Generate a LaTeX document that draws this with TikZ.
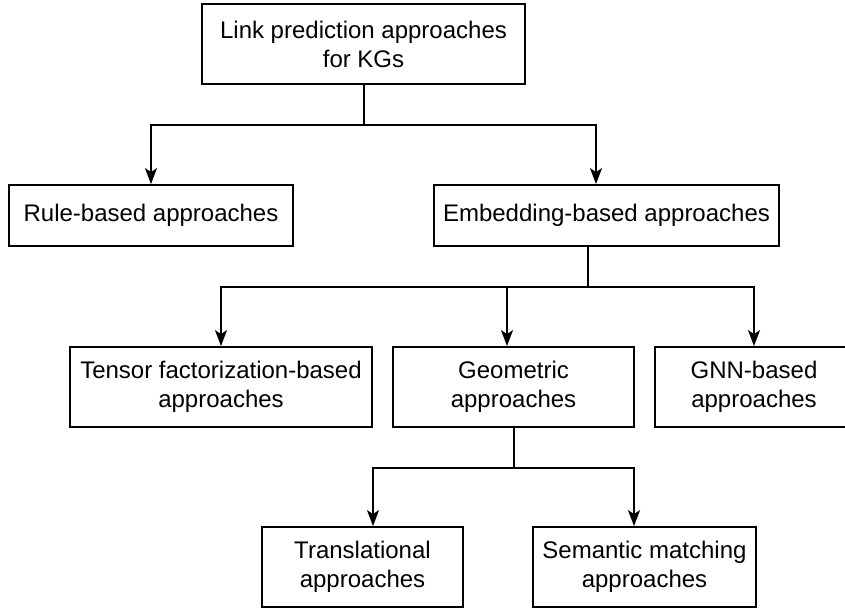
\documentclass[tikz,border=0pt]{standalone}
\usepackage{fontspec}
\setmainfont{Liberation Sans}
\usetikzlibrary{arrows.meta}
\begin{document}
\begin{tikzpicture}[x=1pt,y=-1pt,
  box/.style={draw=black, line width=1.8pt, rectangle, inner sep=0pt, align=center,
    font=\fontsize{24}{29}\selectfont, fill=white},
  conn/.style={draw=black, line width=1.8pt},
  arr/.style={conn, -{Stealth[length=16pt,width=12pt,inset=4pt]}}]
\useasboundingbox (0,0) rectangle (845,608);
\fill[white] (0,0) rectangle (845,608);
\node[box, minimum width=323pt, minimum height=80pt] (top) at (363.5,44) {Link prediction approaches\\for KGs};
\node[box, minimum width=284pt, minimum height=61pt] (rule) at (151,215.5) {Rule-based approaches};
\node[box, minimum width=345pt, minimum height=61pt] (emb) at (606.5,215.5) {Embedding-based approaches};
\node[box, minimum width=302pt, minimum height=80pt] (tensor) at (221,387) {Tensor factorization-based\\approaches};
\node[box, minimum width=241pt, minimum height=80pt] (geom) at (513.5,387) {Geometric\\approaches};
\node[box, minimum width=198pt, minimum height=80pt] (gnn) at (754,387) {GNN-based\\approaches};
\node[box, minimum width=201pt, minimum height=80pt] (trans) at (362.5,567) {Translational\\approaches};
\node[box, minimum width=223pt, minimum height=80pt] (sem) at (644.5,567) {Semantic matching\\approaches};
% level 1
\draw[conn] ([xshift=0.5pt]top.south) -- ++(0,40) coordinate (j1);
\draw[arr] (j1) -| (rule.north);
\draw[arr] (j1) -| ([xshift=-10.5pt]emb.north);
% level 2
\draw[conn] ([xshift=-18.5pt]emb.south) -- ++(0,40) coordinate (j2);
\draw[arr] (j2) -| (tensor.north);
\draw[arr] (j2) -| (gnn.north);
\draw[arr] ([xshift=-6.5pt]geom.north |- 0,288) coordinate (m2) -- ([xshift=-6.5pt]geom.north);
% level 3
\draw[conn] ([xshift=0.5pt]geom.south) -- ++(0,40) coordinate (j3);
\draw[arr] (j3) -| ([xshift=10.5pt]trans.north);
\draw[arr] (j3) -| ([xshift=-10.5pt]sem.north);
\end{tikzpicture}
\end{document}
